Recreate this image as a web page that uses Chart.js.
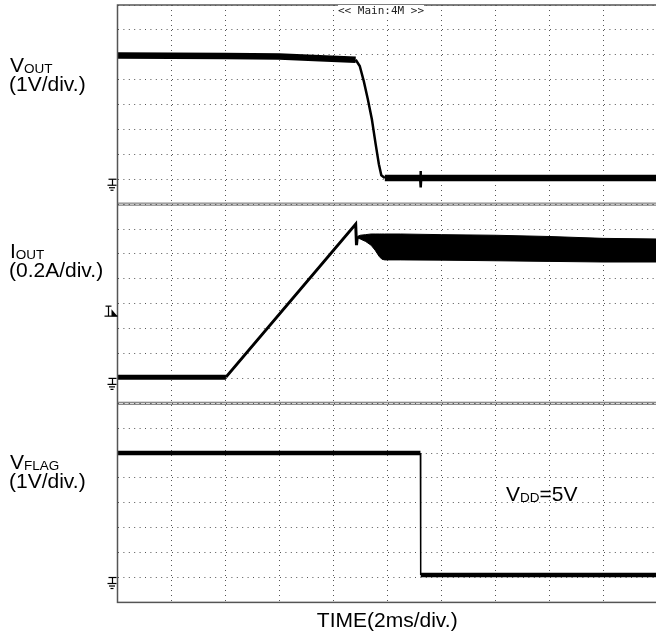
<!DOCTYPE html>
<html>
<head>
<meta charset="utf-8">
<title>VOUT / IOUT / VFLAG</title>
<script src="https://cdn.jsdelivr.net/npm/chart.js@4.4.1/dist/chart.umd.min.js"></script>
<style>
  html, body { margin: 0; padding: 0; background: #fff; overflow: hidden; }
  #wrap { position: relative; width: 656px; height: 638px; overflow: hidden; }
  #scope { position: absolute; left: 0; top: 0; }
  .lbl { position: absolute; font-family: 'Liberation Sans', Arial, sans-serif; font-size: 21px; line-height: 21px; color: #000; white-space: nowrap; }
  .lbl span { font-size: 13.5px; position: relative; top: 1px; }
  .tag { position: absolute; left: 338px; top: 5px; font-family: 'DejaVu Sans Mono', monospace; font-size: 11px; line-height: 11px; color: #222; background: #fff; white-space: pre; }
</style>
</head>
<body>
<div id="wrap">
  <canvas id="scope" width="662" height="638"></canvas>
  <div class="tag">&lt;&lt; Main:4M &gt;&gt;</div>
  <div class="lbl" style="left:10px; top:54px">V<span>OUT</span></div>
  <div class="lbl" style="left:9px; top:73px">(1V/div.)</div>
  <div class="lbl" style="left:10px; top:240px">I<span>OUT</span></div>
  <div class="lbl" style="left:9px; top:259px">(0.2A/div.)</div>
  <div class="lbl" style="left:10px; top:451px">V<span>FLAG</span></div>
  <div class="lbl" style="left:9px; top:470px">(1V/div.)</div>
  <div class="lbl" style="left:506px; top:483px">V<span>DD</span>=5V</div>
</div>
<script>
// time in ms, 2 ms/div over 10 divisions
const vOutT = [0, 4, 6, 7.5, 8.83, 8.98, 9.13, 9.28, 9.43, 9.57, 9.69, 9.78, 9.91, 11.22, 11.23, 11.25, 11.26, 20];
const vOutV = [4.97, 4.95, 4.93, 4.86, 4.8, 4.55, 3.94, 3.21, 2.41, 1.41, 0.6, 0.16, 0.05, 0.05, 0.33, -0.33, 0.05, 0.05];

// output current: flat, ramp up to the limit, then the oscillating band
const iOutT = [0, 4.02, 8.83, 8.86, 8.89];
const iOutA = [0.01, 0.01, 1.24, 1.07, 1.14];
const bandT = [8.89, 9.0, 9.2, 9.4, 9.55, 9.7, 9.8, 9.9, 10.5, 12, 14, 16, 18, 20];
const bandHi = [1.14, 1.15, 1.155, 1.16, 1.16, 1.16, 1.16, 1.16, 1.16, 1.155, 1.15, 1.14, 1.125, 1.12];
const bandLo = [1.13, 1.12, 1.10, 1.07, 1.03, 0.98, 0.958, 0.952, 0.952, 0.95, 0.945, 0.94, 0.935, 0.935];

const flagT = [0, 11.23, 11.24, 20];
const flagV = [5.0, 5.0, 0.1, 0.1];

const trigLevel = 0.5; // A

const pts = (t, v) => t.map((x, i) => ({ x, y: v[i] }));

// flat stretches of the trace are drawn fat (scope noise), edges thin
function segWidth(flat, steep) {
    return ctx => Math.abs(ctx.p1.y - ctx.p0.y) < Math.abs(ctx.p1.x - ctx.p0.x) * 0.5 ? flat : steep;
}

function line(ctx, x1, y1, x2, y2) {
    ctx.beginPath();
    ctx.moveTo(x1, y1);
    ctx.lineTo(x2, y2);
    ctx.stroke();
}

function drawGround(ctx, x, y) {
    ctx.strokeStyle = '#000';
    ctx.lineWidth = 1.2;
    line(ctx, x - 9, y, x - 1, y);
    line(ctx, x - 5, y, x - 5, y + 6);
    line(ctx, x - 10, y + 6, x - 1, y + 6);
    line(ctx, x - 8.5, y + 8.5, x - 2.5, y + 8.5);
    line(ctx, x - 7, y + 11, x - 4, y + 11);
}

function drawTrigger(ctx, x, y) {
    ctx.strokeStyle = '#000';
    ctx.fillStyle = '#000';
    ctx.lineWidth = 1.2;
    line(ctx, x - 13, y, x, y);
    line(ctx, x - 12, y - 10, x - 6, y - 10);
    line(ctx, x - 9, y - 10, x - 9, y);
    ctx.beginPath();
    ctx.moveTo(x - 6, y - 7);
    ctx.lineTo(x, y);
    ctx.lineTo(x - 6, y);
    ctx.closePath();
    ctx.fill();
}

const scopeFrame = {
    id: 'scopeFrame',
    afterDraw(chart) {
        const { ctx, chartArea: a, scales } = chart;
        ctx.save();
        ctx.strokeStyle = '#555';
        ctx.lineWidth = 1.5;
        ctx.strokeRect(a.left, a.top, a.right - a.left, a.bottom - a.top);
        // double line between the panels
        ctx.lineWidth = 1;
        ctx.strokeStyle = '#666';
        ['yV', 'yI'].forEach(id => {
            const y = scales[id].bottom;
            line(ctx, a.left, y - 1, a.right, y - 1);
            line(ctx, a.left, y + 1, a.right, y + 1);
        });
        ['yV', 'yI', 'yF'].forEach(id => drawGround(ctx, a.left, scales[id].getPixelForValue(0)));
        drawTrigger(ctx, a.left, scales.yI.getPixelForValue(trigLevel));
        ctx.restore();
    }
};

const gridColor = '#555';

function panelAxis(min, max, step, weight) {
    return {
        type: 'linear',
        position: 'left',
        stack: 'scope',
        stackWeight: 1,
        weight: weight,
        min: min,
        max: max,
        ticks: { display: false, stepSize: step },
        grid: { color: gridColor, lineWidth: 1, drawTicks: false },
        border: { display: false, dash: [1, 4.4] }
    };
}

Chart.defaults.font.family = "'Liberation Sans', Arial, sans-serif";

new Chart(document.getElementById('scope'), {
    type: 'line',
    data: {
        datasets: [{
            label: 'VOUT',
            yAxisID: 'yV',
            data: pts(vOutT, vOutV),
            borderColor: '#000',
            borderWidth: 2.5,
            segment: { borderWidth: segWidth(6.5, 2.5) }
        }, {
            label: 'IOUT',
            yAxisID: 'yI',
            data: pts(iOutT, iOutA),
            borderColor: '#000',
            borderWidth: 3,
            segment: { borderWidth: segWidth(5, 3) }
        }, {
            label: 'IOUT max',
            yAxisID: 'yI',
            data: pts(bandT, bandHi),
            borderColor: '#000',
            borderWidth: 1,
            fill: false
        }, {
            label: 'IOUT min',
            yAxisID: 'yI',
            data: pts(bandT, bandLo),
            borderColor: '#000',
            backgroundColor: '#000',
            borderWidth: 1,
            fill: '-1'
        }, {
            label: 'VFLAG',
            yAxisID: 'yF',
            data: pts(flagT, flagV),
            borderColor: '#000',
            borderWidth: 1.5,
            segment: { borderWidth: segWidth(4.5, 1.5) }
        }]
    },
    options: {
        responsive: false,
        animation: false,
        devicePixelRatio: 1,
        layout: { padding: { left: 117.5, right: 5, top: 5, bottom: 0 } },
        elements: { point: { radius: 0 }, line: { tension: 0, borderCapStyle: 'butt' } },
        plugins: { legend: { display: false }, tooltip: { enabled: false } },
        scales: {
            x: {
                type: 'linear',
                min: 0,
                max: 20,
                ticks: { display: false, stepSize: 2 },
                grid: { color: gridColor, lineWidth: 1, drawTicks: false },
                border: { display: false, dash: [1, 4] },
                title: {
                    display: true,
                    text: 'TIME(2ms/div.)',
                    color: '#000',
                    font: { size: 21 },
                    padding: { top: 6, bottom: 4.4 }
                }
            },
            yF: panelAxis(-1, 7, 1, 1),
            yI: panelAxis(-0.2, 1.4, 0.2, 2),
            yV: panelAxis(-1, 7, 1, 3)
        }
    },
    plugins: [scopeFrame]
});
</script>
</body>
</html>
